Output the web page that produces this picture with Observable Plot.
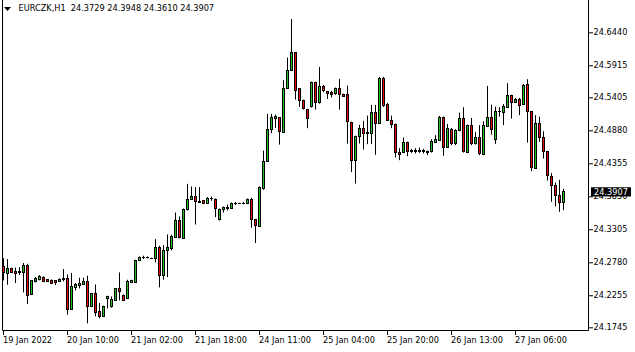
<!DOCTYPE html>
<html><head><meta charset="utf-8">
<script src="https://cdn.jsdelivr.net/npm/d3@7"></script>
<script src="https://cdn.jsdelivr.net/npm/@observablehq/plot@0.6"></script>
<style>html,body{margin:0;padding:0;background:#fff;} svg{display:block}</style>
</head><body><div id="chart"></div>
<script>
const symbol = "EURCZK,H1";
const opens = [24.2714,24.2609,24.2677,24.2629,24.2629,24.2624,24.2725,24.2268,24.2475,24.2507,
24.2545,24.2502,24.2497,24.2486,24.2481,24.2502,24.2518,24.2036,24.2375,24.2407,
24.2427,24.2470,24.2078,24.2279,24.1993,24.1919,24.2205,24.2078,24.2179,24.2364,
24.2259,24.2205,24.2465,24.2465,24.2809,24.2863,24.2852,24.2847,24.2841,24.3011,
24.2570,24.2968,24.3000,24.3181,24.3451,24.3165,24.3620,24.3785,24.3833,24.3747,
24.3758,24.3722,24.3790,24.3774,24.3461,24.3626,24.3642,24.3636,24.3722,24.3722,
24.3715,24.3710,24.3774,24.3456,24.3350,24.3954,24.4389,24.4898,24.5067,24.5078,
24.4850,24.5550,24.5836,24.6111,24.5539,24.5359,24.5210,24.5253,24.5645,24.5327,
24.5582,24.5496,24.5475,24.5464,24.5550,24.5455,24.5455,24.5009,24.4405,24.4787,
24.4903,24.4839,24.4828,24.5157,24.4987,24.5709,24.5285,24.5041,24.4978,24.4532,
24.4532,24.4691,24.4564,24.4542,24.4564,24.4542,24.4548,24.4537,24.4685,24.4717,
24.5089,24.4612,24.4898,24.4664,24.4876,24.5067,24.4526,24.4962,24.4664,24.4771,
24.4494,24.4940,24.5089,24.4739,24.5173,24.5162,24.5248,24.5428,24.5321,24.5375,
24.5289,24.5607,24.5184,24.4272,24.4994,24.4771,24.4548,24.4145,24.4008,24.3849,
24.3729];
const highs = [24.2847,24.2831,24.2693,24.2693,24.2704,24.2768,24.2756,24.2491,24.2545,24.2577,
24.2555,24.2502,24.2507,24.2491,24.2523,24.2672,24.2586,24.2609,24.2450,24.2534,
24.2534,24.2566,24.2291,24.2427,24.2132,24.2089,24.2248,24.2237,24.2364,24.2618,
24.2268,24.2502,24.2502,24.2820,24.2873,24.2884,24.2873,24.2852,24.3149,24.3043,
24.3054,24.3222,24.3218,24.3572,24.3509,24.3636,24.4028,24.3986,24.3976,24.3976,
24.3758,24.3817,24.3827,24.3795,24.3636,24.3668,24.3699,24.3731,24.3742,24.3726,
24.3742,24.3795,24.3806,24.3467,24.3986,24.4558,24.5141,24.5141,24.5130,24.5086,
24.5677,24.6037,24.6652,24.6122,24.5550,24.5369,24.5221,24.5655,24.5655,24.5889,
24.5603,24.5507,24.5507,24.5560,24.5698,24.5464,24.5591,24.5019,24.4796,24.4967,
24.5030,24.5114,24.5285,24.5285,24.5730,24.5730,24.5316,24.5114,24.4987,24.4596,
24.4765,24.4701,24.4585,24.4596,24.4606,24.4585,24.4558,24.4739,24.4803,24.5110,
24.5099,24.4982,24.4919,24.4898,24.5162,24.5248,24.4971,24.5078,24.4855,24.4962,
24.5025,24.5587,24.5289,24.5258,24.5248,24.5300,24.5630,24.5448,24.5396,24.5396,
24.5618,24.5693,24.5189,24.5121,24.5099,24.4866,24.4553,24.4199,24.4049,24.4092,
24.3948];
const lows = [24.2491,24.2423,24.2609,24.2450,24.2577,24.2300,24.2116,24.2259,24.2459,24.2491,
24.2465,24.2470,24.2438,24.2418,24.2470,24.2475,24.1946,24.2033,24.2332,24.2364,
24.2418,24.1807,24.2073,24.1919,24.1887,24.1909,24.2046,24.2057,24.2173,24.2173,
24.2173,24.2195,24.2459,24.2465,24.2799,24.2831,24.2841,24.2841,24.2777,24.2380,
24.2502,24.2545,24.2968,24.3170,24.3159,24.3159,24.3604,24.3774,24.3381,24.3722,
24.3717,24.3717,24.3758,24.3499,24.3445,24.3572,24.3604,24.3626,24.3690,24.3706,
24.3706,24.3706,24.3329,24.3086,24.3340,24.3933,24.4378,24.4835,24.4919,24.4653,
24.4839,24.5539,24.5831,24.5369,24.5253,24.5210,24.4914,24.5242,24.5210,24.5305,
24.5486,24.5380,24.5401,24.5444,24.5210,24.5412,24.4669,24.4214,24.4033,24.4669,
24.4574,24.4660,24.4660,24.4490,24.4982,24.5253,24.5036,24.4914,24.4447,24.4405,
24.4521,24.4469,24.4521,24.4510,24.4521,24.4510,24.4485,24.4526,24.4680,24.4712,
24.4474,24.4601,24.4644,24.4644,24.4866,24.4526,24.4517,24.4644,24.4653,24.4485,
24.4485,24.4935,24.4812,24.4664,24.5099,24.4962,24.5243,24.5067,24.5316,24.5121,
24.5284,24.4685,24.4230,24.4267,24.4696,24.4431,24.4081,24.3742,24.3668,24.3583,
24.3610];
const closes = [24.2618,24.2677,24.2613,24.2609,24.2618,24.2725,24.2252,24.2486,24.2523,24.2550,
24.2481,24.2481,24.2450,24.2465,24.2513,24.2518,24.2036,24.2391,24.2427,24.2450,
24.2475,24.2078,24.2279,24.1982,24.1919,24.2073,24.2237,24.2184,24.2359,24.2322,
24.2179,24.2481,24.2486,24.2815,24.2863,24.2857,24.2857,24.2844,24.3011,24.2570,
24.2974,24.3011,24.3186,24.3451,24.3175,24.3626,24.3785,24.3833,24.3742,24.3737,
24.3722,24.3801,24.3795,24.3636,24.3626,24.3647,24.3652,24.3722,24.3710,24.3710,
24.3718,24.3779,24.3467,24.3365,24.3965,24.4389,24.4898,24.5089,24.5099,24.4855,
24.5539,24.5836,24.6111,24.5518,24.5359,24.5221,24.5073,24.5645,24.5327,24.5582,
24.5518,24.5464,24.5444,24.5550,24.5455,24.5423,24.5019,24.4405,24.4787,24.4903,
24.4828,24.4828,24.5157,24.4987,24.5709,24.5273,24.5041,24.4967,24.4532,24.4490,
24.4680,24.4542,24.4542,24.4564,24.4542,24.4553,24.4526,24.4696,24.4739,24.5089,
24.4612,24.4908,24.4664,24.4876,24.5067,24.4537,24.4962,24.4664,24.4771,24.4505,
24.4951,24.5089,24.4887,24.5184,24.5184,24.5258,24.5428,24.5321,24.5375,24.5280,
24.5598,24.5184,24.4294,24.4994,24.4771,24.4548,24.4156,24.4008,24.3849,24.3729,
24.3907];
const xTickBars = [0,16,32,48,64,80,96,112,128];
const xTickLabels = ["19 Jan 2022","20 Jan 10:00","21 Jan 02:00","21 Jan 18:00","24 Jan 11:00","25 Jan 04:00","25 Jan 20:00","26 Jan 13:00","27 Jan 06:00"];
const yTicks = [24.6440,24.5915,24.5405,24.4880,24.4355,24.3830,24.3305,24.2780,24.2255,24.1745];
const upColor = "#22c022";
const downColor = "#ee0a0a";

const bars = opens.map((o, i) => ({i, open: o, high: highs[i], low: lows[i], close: closes[i]}));
const last = bars[bars.length - 1];
const header = `${symbol}  ${[last.open, last.high, last.low, last.close].map(v => v.toFixed(4)).join(" ")}`;
const xTicks = xTickBars.map((b, k) => ({i: b, label: xTickLabels[k]}));
const bodyOf = d => ({...d, lo: Math.min(d.open, d.close), hi: Math.max(d.open, d.close)});
const up = bars.filter(d => d.close >= d.open).map(bodyOf);
const down = bars.filter(d => d.close < d.open).map(bodyOf);

const plot = Plot.plot({
  width: 635, height: 352,
  marginLeft: 2, marginRight: 47, marginTop: 0, marginBottom: 22,
  style: {fontFamily: "DejaVu Sans", fontSize: "8.2px", background: "white", color: "black", overflow: "visible"},
  x: {type: "linear", domain: [0, bars.length - 1], range: [3, 3 + 4 * (bars.length - 1)], ticks: xTickBars, tickSize: 5, tickFormat: () => "", label: null},
  y: {domain: [yTicks[yTicks.length - 1], yTicks[0]], range: [327.3, 32.3], ticks: yTicks, tickFormat: d => d.toFixed(4), tickSize: 4, tickPadding: 1, axis: "right", label: null},
  marks: [
    Plot.ruleX(bars, {x: "i", y1: "low", y2: "high", stroke: "black", strokeWidth: 1}),
    Plot.rect(up, {x1: d => d.i - 0.25, x2: d => d.i + 0.25, y1: "lo", y2: "hi", dx: 0.5, fill: upColor, stroke: "black", strokeWidth: 1}),
    Plot.rect(down, {x1: d => d.i - 0.25, x2: d => d.i + 0.25, y1: "lo", y2: "hi", dx: 0.5, fill: downColor, stroke: "black", strokeWidth: 1}),
    Plot.text(xTicks, {x: "i", text: "label", frameAnchor: "bottom", textAnchor: "start", lineAnchor: "top", dy: 6.5, dx: -0.5, fill: "black"}),
    Plot.text([header], {frameAnchor: "top-left", text: d => d, textAnchor: "start", lineAnchor: "top", dx: 16, dy: 5, fill: "black"})
  ]
});

const svg = d3.select(plot);
// snap candle body edges vertically to whole pixels; keep doji bodies visible as a line
svg.selectAll("g").filter(function() {
  const f = this.getAttribute("fill");
  return f === upColor || f === downColor;
}).selectAll("rect").each(function() {
  const y = +this.getAttribute("y");
  const h = +this.getAttribute("height");
  const y0 = Math.round(y - 0.5) + 0.5;
  const y1 = Math.round(y + h - 0.5) + 0.5;
  this.setAttribute("y", y0);
  this.setAttribute("height", Math.max(y1 - y0, 0.01));
});
svg.append("path").attr("d", "M2.5,0V330.5H588.5V0").attr("fill", "none").attr("stroke", "black").attr("stroke-width", 1);
svg.append("path").attr("d", "M4,7H11L7.5,11Z").attr("fill", "black");
const yPos = plot.scale("y").apply(last.close) + 0.5;
svg.append("rect").attr("x", 591).attr("y", yPos - 4.7).attr("width", 40).attr("height", 9.2).attr("fill", "black");
svg.append("text").attr("x", 594).attr("y", yPos).attr("dy", "0.32em").attr("fill", "white")
  .attr("text-anchor", "start")
  .attr("font-family", "DejaVu Sans").attr("font-size", "8.2px").text(last.close.toFixed(4));
document.getElementById("chart").appendChild(plot);
</script></body></html>
